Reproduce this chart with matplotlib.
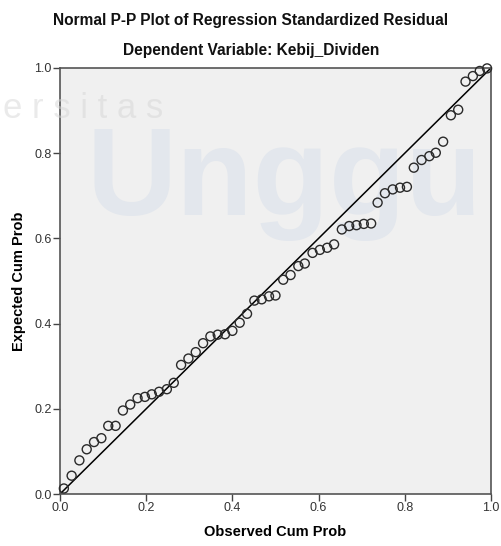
import matplotlib
matplotlib.use("Agg")
import matplotlib.pyplot as plt

# Observed vs expected cumulative probabilities
observed = [0.009, 0.027, 0.045, 0.062, 0.079, 0.096, 0.112, 0.129, 0.146, 0.163,
            0.180, 0.197, 0.213, 0.230, 0.248, 0.264, 0.281, 0.298, 0.315, 0.332,
            0.349, 0.366, 0.383, 0.400, 0.417, 0.434, 0.451, 0.468, 0.485, 0.500,
            0.518, 0.535, 0.553, 0.568, 0.586, 0.603, 0.620, 0.636, 0.654, 0.671,
            0.688, 0.705, 0.722, 0.737, 0.754, 0.772, 0.789, 0.805, 0.821, 0.839,
            0.857, 0.872, 0.889, 0.907, 0.924, 0.941, 0.958, 0.974, 0.991]
expected = [0.013, 0.043, 0.079, 0.105, 0.122, 0.131, 0.160, 0.160, 0.196, 0.210,
            0.225, 0.228, 0.234, 0.240, 0.246, 0.261, 0.303, 0.318, 0.333, 0.354,
            0.370, 0.374, 0.375, 0.383, 0.402, 0.423, 0.454, 0.457, 0.464, 0.466,
            0.503, 0.514, 0.535, 0.541, 0.566, 0.573, 0.578, 0.586, 0.621, 0.629,
            0.631, 0.634, 0.635, 0.684, 0.706, 0.715, 0.719, 0.721, 0.766, 0.784,
            0.793, 0.801, 0.827, 0.889, 0.902, 0.968, 0.981, 0.993, 0.999]

ticks = [0.0, 0.2, 0.4, 0.6, 0.8, 1.0]
tick_labels = ["0.0", "0.2", "0.4", "0.6", "0.8", "1.0"]

plt.rcParams['font.family'] = ['Liberation Sans', 'DejaVu Sans']

fig = plt.figure(figsize=(5.02, 5.46), dpi=100)
ax = fig.add_axes([0.1195, 0.0952, 0.8585, 0.7803])
ax.set_facecolor('#f0f0f0')

# faint watermark from the source screenshot, behind the marks
ax.text(0.062, 0.655, 'Unggu', transform=ax.transAxes, fontsize=90,
        fontweight='bold', color='#e3e7ed', ha='left', va='baseline',
        zorder=1, clip_on=True)
fig.text(0.005, 1 - 118 / 546, 'e r s i t a s', fontsize=25, color='#d6d6d6',
         alpha=0.5, ha='left', va='baseline', zorder=0)

# reference diagonal
ax.plot([0, 1], [0, 1], color='black', lw=1.1, zorder=2)
ax.scatter(observed, expected, s=42, facecolors='none', edgecolors='#2a2a2a',
           linewidths=1.0, zorder=3, clip_on=False)

ax.set_xlim(0, 1)
ax.set_ylim(0, 1)
ax.set_xticks(ticks)
ax.set_xticklabels(tick_labels)
ax.set_yticks(ticks)
ax.set_yticklabels(tick_labels)
ax.tick_params(direction='out', length=5, width=1, color='#444444',
               labelsize=9, labelcolor='#333333', pad=1)
for side in ax.spines.values():
    side.set_color('#555555')
    side.set_linewidth(1.2)

ax.set_xlabel('Observed Cum Prob', fontsize=10.5, fontweight='bold', labelpad=8)
ax.set_ylabel('Expected Cum Prob', fontsize=10.5, fontweight='bold', labelpad=6)

fig.text(0.5, 1 - 20 / 546, 'Normal P-P Plot of Regression Standardized Residual',
         ha='center', va='center', fontsize=11.2, fontweight='bold', color='#111111')
fig.text(0.5, 1 - 50 / 546, 'Dependent Variable: Kebij_Dividen',
         ha='center', va='center', fontsize=11.2, fontweight='bold', color='#111111')

fig.savefig('out.png', dpi=100)
